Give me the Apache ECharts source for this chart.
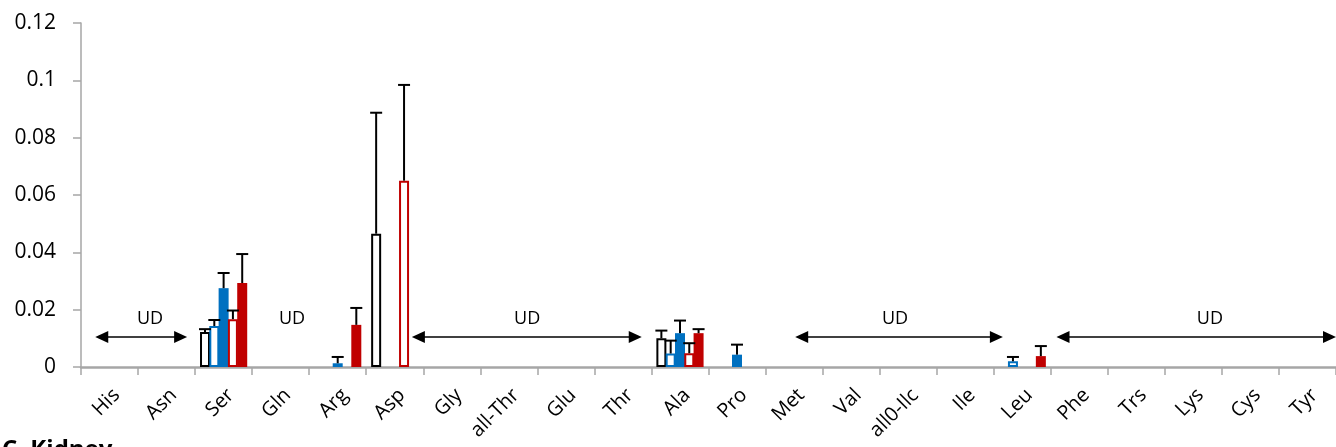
<!DOCTYPE html>
<html><head><meta charset="utf-8">
<script src="https://cdn.jsdelivr.net/npm/echarts@6/dist/echarts.min.js"></script>
<style>html,body{margin:0;padding:0;background:#fff}#c{width:1336px;height:447px}</style>
</head><body><div id="c"></div>
<script>
const categories = ['His','Asn','Ser','Gln','Arg','Asp','Gly','all-Thr','Glu','Thr','Ala','Pro','Met','Val','all0-Ilc','Ile','Leu','Phe','Trs','Lys','Cys','Tyr'];
const yTicks = [0, 0.02, 0.04, 0.06, 0.08, 0.1, 0.12];
// means per series (index in categories)
const blackOutline = {Ser:0.0122, Asp:0.0465, Ala:0.0100};
const blueOutline  = {Ser:0.0143, Ala:0.0047, Leu:0.0020};
const blueFilled   = {Ser:0.0275, Arg:0.0013, Ala:0.0118, Pro:0.0043};
const redOutline   = {Ser:0.0167, Asp:0.0650, Ala:0.0048};
const redFilled    = {Ser:0.0293, Arg:0.0147, Ala:0.0118, Leu:0.0038};
// upper ends of error bars
const blackOutlineErr = {Ser:0.0132, Asp:0.0887, Ala:0.0127};
const blueOutlineErr  = {Ser:0.0164, Ala:0.0092, Leu:0.0035};
const blueFilledErr   = {Ser:0.0328, Arg:0.0035, Ala:0.0162, Pro:0.0078};
const redOutlineErr   = {Ser:0.0197, Asp:0.0984, Ala:0.0083};
const redFilledErr    = {Ser:0.0394, Arg:0.0206, Ala:0.0132, Leu:0.0073};
// UD annotations: [fromX, toX, y] in category-width units
const udArrows = [[0.25, 1.86, 0.0105], [5.80, 9.83, 0.0105], [12.52, 16.16, 0.0105], [17.10, 22.0, 0.0105]];
const udLabels = [[1.21, 0.0168], [3.70, 0.0168], [7.82, 0.0168], [14.27, 0.0168], [19.79, 0.0168]];

const seriesDefs = [
  {name:'s1', m:blackOutline, e:blackOutlineErr, fill:'#ffffff', border:'#000000', bw:2},
  {name:'s2', m:blueOutline, e:blueOutlineErr, fill:'#ffffff', border:'#0070C0', bw:2},
  {name:'s3', m:blueFilled, e:blueFilledErr, fill:'#0070C0', border:'#0070C0', bw:0},
  {name:'s4', m:redOutline, e:redOutlineErr, fill:'#ffffff', border:'#C00000', bw:2},
  {name:'s5', m:redFilled, e:redFilledErr, fill:'#C00000', border:'#C00000', bw:0}
];
const BW = 10, GAP = -0.07;
const step = BW * (1 + GAP);
const font = "'Open Sans', sans-serif";

const series = [];
seriesDefs.forEach((d, i) => {
  series.push({
    type:'bar', name:d.name, barWidth:BW, barGap:(GAP*100)+'%',
    data: categories.map(c => d.m[c] == null ? null : d.m[c]),
    itemStyle:{color:d.fill, borderColor:d.border, borderWidth:d.bw},
    z:2
  });
});
seriesDefs.forEach((d, i) => {
  const off = (i - 2) * step;
  const data = [];
  categories.forEach((c, ci) => { if (d.e[c] != null) data.push([ci, d.m[c], d.e[c]]); });
  series.push({
    type:'custom', z:3,
    data: data,
    renderItem: function(params, api) {
      const top = api.coord([api.value(0), api.value(2)]);
      const base = api.coord([api.value(0), api.value(1)]);
      const x = top[0] + off;
      return {type:'group', children:[
        {type:'line', shape:{x1:x, y1:base[1], x2:x, y2:top[1]}, style:{stroke:'#000', lineWidth:2}},
        {type:'line', shape:{x1:x-6, y1:top[1], x2:x+6, y2:top[1]}, style:{stroke:'#000', lineWidth:2}}
      ]};
    }
  });
});
series.push({
  type:'custom', xAxisIndex:1, z:4,
  data: udArrows,
  renderItem: function(params, api) {
    const a = api.coord([api.value(0), api.value(2)]);
    const b = api.coord([api.value(1), api.value(2)]);
    const hl = 13, hh = 6;
    return {type:'group', children:[
      {type:'line', shape:{x1:a[0]+hl-1, y1:a[1], x2:b[0]-hl+1, y2:b[1]}, style:{stroke:'#000', lineWidth:1.5}},
      {type:'polygon', shape:{points:[[a[0],a[1]],[a[0]+hl,a[1]-hh],[a[0]+hl,a[1]+hh]]}, style:{fill:'#000'}},
      {type:'polygon', shape:{points:[[b[0],b[1]],[b[0]-hl,b[1]-hh],[b[0]-hl,b[1]+hh]]}, style:{fill:'#000'}}
    ]};
  }
});
series.push({
  type:'custom', xAxisIndex:1, z:4,
  data: udLabels,
  renderItem: function(params, api) {
    const p = api.coord([api.value(0), api.value(1)]);
    return {type:'text', x:p[0], y:p[1], style:{text:'UD', fill:'#000', font:'18px ' + font, align:'center', verticalAlign:'middle'}};
  }
});

const chart = echarts.init(document.getElementById('c'));
chart.setOption({
  animation:false,
  backgroundColor:'#fff',
  grid:{left:81, right:0, top:23, bottom:80, containLabel:false},
  xAxis:[{
    type:'category', data:categories, boundaryGap:true,
    axisLine:{lineStyle:{color:'#a6a6a6', width:2.5}},
    axisTick:{show:true, length:8, lineStyle:{color:'#a6a6a6', width:1.5}},
    axisLabel:{rotate:45, margin:18, verticalAlign:'top', color:'#000', fontSize:20, fontFamily:font, interval:0}
  },{
    type:'value', min:0, max:22, show:false
  }],
  yAxis:{
    type:'value', min:0, max:0.12, interval:0.02,
    axisLine:{show:true, lineStyle:{color:'#a6a6a6', width:1.5}},
    axisTick:{show:true, length:8, lineStyle:{color:'#a6a6a6', width:1.5}},
    splitLine:{show:false},
    axisLabel:{color:'#000', fontSize:21, fontFamily:font, margin:25,
      formatter: v => String(+v.toFixed(2))}
  },
  series: series,
  graphic:[{type:'text', left:2, top:438, style:{text:'C. Kidney', fill:'#000', font:'bold 24px ' + font}}]
});
</script></body></html>
